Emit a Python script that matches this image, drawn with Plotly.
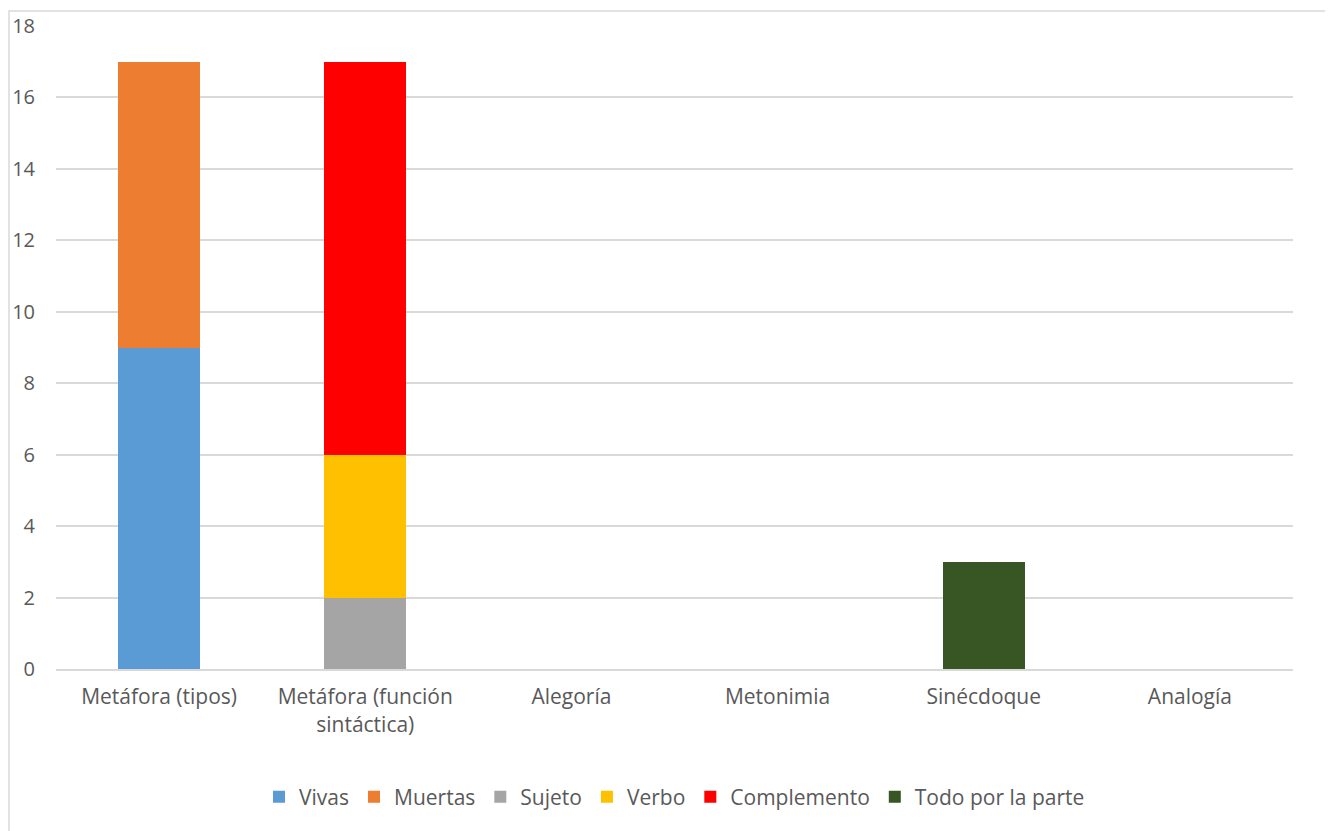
import plotly.graph_objects as go

categories = ["Metáfora (tipos)", "Metáfora (función<br>sintáctica)", "Alegoría",
              "Metonimia", "Sinécdoque", "Analogía"]
series_names = ["Vivas", "Muertas", "Sujeto", "Verbo", "Complemento", "Todo por la parte"]
vivas = [9, 0, 0, 0, 0, 0]
muertas = [8, 0, 0, 0, 0, 0]
sujeto = [0, 2, 0, 0, 0, 0]
verbo = [0, 4, 0, 0, 0, 0]
complemento = [0, 11, 0, 0, 0, 0]
todo_por_la_parte = [0, 0, 0, 0, 3, 0]
y_ticks = [0, 2, 4, 6, 8, 10, 12, 14, 16, 18]

series_values = [vivas, muertas, sujeto, verbo, complemento, todo_por_la_parte]
colors = ["#5B9BD5", "#ED7D31", "#A5A5A5", "#FFC000", "#FF0000", "#375623"]

FONT = "Open Sans, sans-serif"
OFF = 8  # page body offset
W, H = 1333 - OFF, 831 - OFF
L, T = 56 - OFF, 26 - OFF
R = W - (1293 - OFF)
B = H - (669 - OFF)
pw = W - L - R
ph = H - T - B
y0px = 669 - OFF

fig = go.Figure()
for name, vals, col in zip(series_names, series_values, colors):
    fig.add_trace(go.Bar(name=name, x=categories, y=vals, marker=dict(color=col, line=dict(width=0))))

fig.update_layout(
    width=W, height=H,
    barmode="stack", bargap=0.6,
    plot_bgcolor="white", paper_bgcolor="white",
    margin=dict(l=L, r=R, t=T, b=B, autoexpand=False),
    font=dict(family=FONT, size=21, color="#595959"),
    xaxis=dict(showgrid=False, showline=True, linecolor="#D9D9D9", linewidth=2,
               ticks="", ticklabelstandoff=8, tickfont=dict(size=21, color="#595959")),
    yaxis=dict(range=[0, 18], tickvals=y_ticks, showgrid=True, gridcolor="#D9D9D9",
               gridwidth=1.5, zeroline=False, showline=False, ticks="",
               ticklabelstandoff=20, tickfont=dict(size=20, color="#595959")),
    legend=dict(orientation="h", x=0.5, xanchor="center",
                y=(y0px - (797 - OFF)) / ph, yanchor="middle",
                font=dict(size=21, color="#595959"), itemsizing="constant",
                traceorder="normal", itemwidth=30, tracegroupgap=0),
    showlegend=True,
    shapes=[dict(type="rect", xref="paper", yref="paper",
                 x0=(1 - L) / pw, x1=(W + 10 - L) / pw,
                 y0=(y0px - (H + 10)) / ph, y1=(y0px - (11 - OFF)) / ph,
                 line=dict(color="#D9D9D9", width=1.5), fillcolor="rgba(0,0,0,0)", layer="below")],
)
fig.write_html("out.html")
